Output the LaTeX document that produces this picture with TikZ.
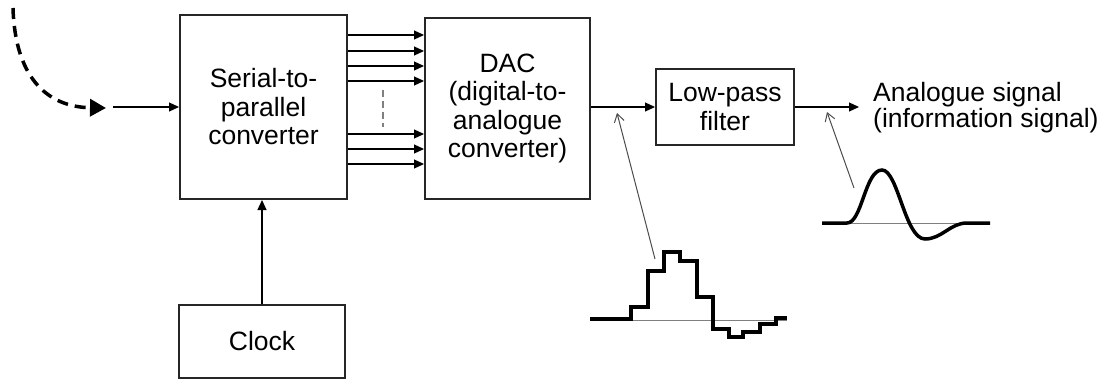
\documentclass[tikz,border=0pt]{standalone}
\usepackage{fontspec}
\setmainfont{Liberation Sans}
\usepackage{tikz}
\usetikzlibrary{arrows.meta}
\usetikzlibrary{calc}

\tikzset{
    blk/.style={draw=black!85,line width=2pt,align=center,inner sep=0pt,
        font=\fontsize{26.5}{28.5}\selectfont},
    sig/.style={-{Triangle[length=10pt,width=9pt]},line width=1.2pt},
    ptr/.style={-{Straight Barb[length=8pt,width=10pt]},line width=1pt,black!70},
    wave/.style={line width=3.5pt,line join=miter},
    zero/.style={line width=1pt,gray}
}

\begin{document}
\begin{tikzpicture}[x=1pt,y=-1pt]
    \useasboundingbox (0,0) rectangle (1108,380);

    % blocks
    \node[blk,minimum width=167pt,minimum height=184pt] (sp) at (263.5,107) {Serial-to-\\parallel\\converter};
    \node[blk,minimum width=165pt,minimum height=181pt] (dac) at (507.5,108.5) {DAC\\(digital-to-\\analogue\\converter)};
    \node[blk,minimum width=138pt,minimum height=76pt] (lpf) at (725,107) {Low-pass\\filter};
    \node[blk,minimum width=166pt,minimum height=73pt] (clk) at (262,341.5) {Clock};
    \node[anchor=west,align=left,inner sep=0pt,font=\fontsize{26.5}{26}\selectfont] (out) at (873,108) {Analogue signal\\(information signal)};

    % serial input
    \coordinate (src) at (13,8);
    \coordinate (cin) at (106,108);
    \coordinate (in) at (113,107);
    \draw[dashed,dash pattern=on 11pt off 7pt,line width=3.5pt,-{Triangle[length=16pt,width=17pt]}]
        (src) .. controls (15,75) and (45,107) .. (cin);
    \draw[sig] (in) -- (in -| sp.west);

    % parallel bus
    \foreach \y in {35,51,66,81,134,149,164}
        \draw[sig] (sp.east |- 0,\y) -- (dac.west |- 0,\y);
    \draw[gray,dash pattern=on 7pt off 4pt,line width=1.3pt] (383,90) -- (383,127);

    \coordinate (o) at (859,107);
    \draw[sig] (dac.east |- lpf) -- (lpf.west);
    \draw[sig] (lpf.east) -- (lpf.east -| o);
    \draw[sig] (clk.north) -- (clk.north |- sp.south);

    % DAC output (staircase)
    \draw[zero] (631,320) -- (787,320);
    \draw[wave] (590,319) -| (631,307) -| (648,271) -| (664,252) -| (680,261) -| (697,297)
        -| (713,329) -| (729,337) -| (743,332) -| (760,324) -| (776,318) -- (787,318);
    \coordinate (stair) at (655,259);
    \coordinate (dactip) at (617,113);
    \draw[ptr] (stair) -- (dactip);

    % filtered output
    \draw[zero] (847,223) -- (990,223);
    \draw[wave] (822,223) -- (847,223) .. controls (862,223) and (865,170) .. (882,170)
        .. controls (898,170) and (905,239) .. (925,239)
        .. controls (942,239) and (950,223) .. (967,223) -- (990,223);
    \coordinate (pulse) at (854,188);
    \coordinate (lpftip) at (827,112);
    \draw[ptr] (pulse) -- (lpftip);
\end{tikzpicture}
\end{document}
